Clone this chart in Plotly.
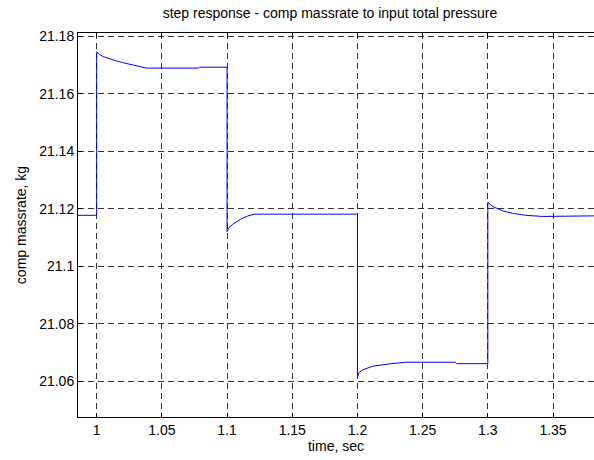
import plotly.graph_objects as go

# time (s) and compressor massrate (kg)
time = [0.985, 1.0,
        1.0, 1.002, 1.005, 1.01, 1.015, 1.02, 1.025, 1.03, 1.038, 1.078, 1.079, 1.1,
        1.1, 1.101, 1.1044, 1.1102, 1.1161, 1.1213, 1.2,
        1.2, 1.201, 1.2038, 1.2115, 1.224, 1.237, 1.275, 1.276, 1.3,
        1.3, 1.3039, 1.3116, 1.319, 1.329, 1.342, 1.357, 1.358, 1.3814]
massrate = [21.1178, 21.1178,
            21.1746, 21.1738, 21.1730, 21.1722, 21.1715, 21.1709, 21.1703, 21.1697, 21.1690, 21.1690, 21.1693, 21.1693,
            21.1121, 21.1133, 21.1147, 21.1164, 21.1176, 21.1182, 21.1182,
            21.0613, 21.0630, 21.0640, 21.0653, 21.0661, 21.0667, 21.0667, 21.0662, 21.0662,
            21.1223, 21.1208, 21.1193, 21.1185, 21.1178, 21.1174, 21.1174, 21.1176, 21.1176]

x_ticks = [1.0, 1.05, 1.1, 1.15, 1.2, 1.25, 1.3, 1.35]
x_labels = ["1", "1.05", "1.1", "1.15", "1.2", "1.25", "1.3", "1.35"]
y_ticks = [21.06, 21.08, 21.10, 21.12, 21.14, 21.16, 21.18]
y_labels = ["21.06", "21.08", "21.1", "21.12", "21.14", "21.16", "21.18"]

title_text = "step response - comp massrate to input total pressure"
x_title = "time, sec"
y_title = "comp massrate, kg"

font_family = "Liberation Sans, Arial, sans-serif"
fs = 14

fig = go.Figure()
fig.add_trace(go.Scatter(x=time, y=massrate, mode="lines",
                         line=dict(color="rgb(0,0,255)", width=1),
                         showlegend=False, hoverinfo="skip"))

axis_common = dict(
    showgrid=True, gridcolor="rgba(30,30,30,0.9)", gridwidth=1, griddash="6px,4px",
    zeroline=False, showline=True, linecolor="black", linewidth=1,
    ticks="inside", ticklen=4, tickcolor="black",
    tickfont=dict(family=font_family, size=fs, color="black"),
)

fig.update_layout(
    width=594, height=460,
    margin=dict(l=78, r=0, t=33, b=43),
    paper_bgcolor="white", plot_bgcolor="white",
    font=dict(family=font_family, size=fs, color="black"),
    title=dict(text=title_text, x=330 / 594, xanchor="center", xref="container",
               y=1 - 13 / 460, yanchor="middle", font=dict(size=fs)),
    xaxis=dict(range=[0.98567, 1.38143], tickvals=x_ticks, ticktext=x_labels,
               mirror="ticks",
               title=dict(text=x_title, standoff=3, font=dict(size=fs)), **axis_common),
    yaxis=dict(range=[21.04765, 21.1812], tickvals=y_ticks, ticktext=y_labels,
               mirror=False,
               title=dict(text=y_title, standoff=9, font=dict(size=fs)), **axis_common),
)

fig.write_html("out.html")
